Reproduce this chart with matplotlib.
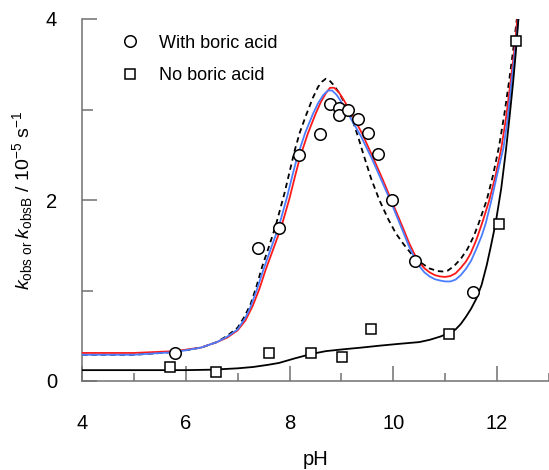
import matplotlib
matplotlib.use("Agg")
import matplotlib.pyplot as plt

plt.rcParams['font.family'] = ['Liberation Sans', 'DejaVu Sans']
plt.rcParams['mathtext.fontset'] = 'custom'
plt.rcParams['mathtext.rm'] = 'Liberation Sans'
plt.rcParams['mathtext.it'] = 'Liberation Sans:italic'

# ---- data points ----
ph_with = [5.79, 7.40, 7.79, 8.19, 8.59, 8.77, 8.96, 8.96, 9.13, 9.32, 9.51, 9.71, 9.98, 10.41, 11.53]
k_with = [0.31, 1.47, 1.69, 2.50, 2.73, 3.06, 3.02, 2.94, 2.99, 2.89, 2.74, 2.51, 2.00, 1.33, 0.98]

ph_no = [5.70, 6.58, 7.60, 8.42, 9.02, 9.57, 11.08, 12.04, 12.37]
k_no = [0.15, 0.10, 0.31, 0.31, 0.27, 0.57, 0.52, 1.74, 3.76]

# ---- fitted curves ----
ph_red = [4.0, 5.0, 5.8, 6.3, 6.6, 6.8, 7.0, 7.15, 7.29, 7.42, 7.54, 7.7, 7.84, 8.0, 8.1, 8.2,
          8.35, 8.5, 8.6, 8.7, 8.78, 8.86, 8.95, 9.05, 9.2, 9.41, 9.6, 9.8, 9.96, 10.18, 10.3,
          10.4, 10.5, 10.6, 10.7, 10.8, 10.9, 11.0, 11.1, 11.2, 11.3, 11.4, 11.49, 11.6, 11.72,
          11.85, 11.97, 12.08, 12.17, 12.26, 12.33, 12.39]
k_red = [0.31, 0.31, 0.33, 0.37, 0.43, 0.48, 0.56, 0.67, 0.83, 1.02, 1.23, 1.48, 1.70, 2.02, 2.25, 2.47,
         2.73, 2.95, 3.08, 3.18, 3.24, 3.24, 3.19, 3.10, 2.95, 2.72, 2.48, 2.22, 2.00, 1.70, 1.53,
         1.41, 1.31, 1.245, 1.20, 1.17, 1.155, 1.15, 1.16, 1.19, 1.25, 1.32, 1.41, 1.56, 1.76,
         2.00, 2.27, 2.57, 2.90, 3.31, 3.64, 4.00]

ph_blue = [4.0, 5.0, 5.8, 6.3, 6.6, 6.8, 7.0, 7.15, 7.25, 7.37, 7.49, 7.65, 7.79, 7.95, 8.05, 8.15,
           8.3, 8.45, 8.55, 8.65, 8.74, 8.82, 8.91, 9.0, 9.15, 9.38, 9.6, 9.8, 9.96, 10.18, 10.3,
           10.4, 10.5, 10.6, 10.7, 10.8, 10.9, 11.0, 11.1, 11.2, 11.3, 11.4, 11.5, 11.6, 11.7,
           11.78, 11.9, 12.0, 12.12, 12.2, 12.28, 12.35, 12.41]
k_blue = [0.29, 0.29, 0.32, 0.37, 0.43, 0.49, 0.57, 0.70, 0.82, 1.01, 1.22, 1.48, 1.70, 2.03, 2.26, 2.48,
          2.74, 2.95, 3.07, 3.16, 3.21, 3.21, 3.16, 3.08, 2.93, 2.70, 2.44, 2.18, 1.97, 1.66, 1.49,
          1.37, 1.27, 1.20, 1.155, 1.125, 1.11, 1.10, 1.10, 1.12, 1.17, 1.24, 1.33, 1.46, 1.60,
          1.74, 2.02, 2.28, 2.57, 2.88, 3.31, 3.66, 4.00]

ph_dash = [4.0, 5.0, 5.8, 6.3, 6.6, 6.8, 7.0, 7.13, 7.25, 7.36, 7.47, 7.6, 7.73, 7.9, 8.0, 8.1,
           8.2, 8.32, 8.45, 8.55, 8.63, 8.7, 8.77, 8.85, 8.96, 9.09, 9.22, 9.32, 9.41, 9.57, 9.73,
           9.9, 10.05, 10.2, 10.34, 10.5, 10.69, 10.85, 10.95, 11.05, 11.17, 11.3, 11.43, 11.55,
           11.65, 11.8, 11.92, 12.04, 12.14, 12.23, 12.31, 12.38]
k_dash = [0.29, 0.29, 0.32, 0.37, 0.43, 0.50, 0.59, 0.71, 0.85, 1.04, 1.26, 1.48, 1.71, 2.07, 2.31, 2.55,
          2.75, 2.94, 3.13, 3.25, 3.31, 3.34, 3.32, 3.27, 3.18, 3.04, 2.87, 2.70, 2.53, 2.24, 2.00,
          1.79, 1.63, 1.51, 1.41, 1.32, 1.245, 1.215, 1.21, 1.22, 1.27, 1.35, 1.46, 1.60,
          1.75, 2.00, 2.27, 2.60, 2.95, 3.31, 3.66, 4.00]

ph_black = [4.0, 5.0, 6.0, 6.5, 7.0, 7.3, 7.6, 7.8, 8.1, 8.43, 8.7, 9.03, 9.4, 9.73, 10.1, 10.5,
            10.7, 10.9, 11.08, 11.2, 11.3, 11.4, 11.5, 11.6, 11.7, 11.8, 11.88, 11.97, 12.08,
            12.17, 12.24, 12.31, 12.36, 12.41]
k_black = [0.12, 0.12, 0.12, 0.125, 0.14, 0.155, 0.18, 0.20, 0.25, 0.30, 0.33, 0.35, 0.37, 0.39, 0.41, 0.43,
           0.455, 0.49, 0.53, 0.57, 0.63, 0.71, 0.80, 0.91, 1.06, 1.28, 1.49, 1.74, 2.13,
           2.55, 2.92, 3.31, 3.63, 4.00]

legend_labels = ["With boric acid", "No boric acid"]
x_ticks = [4, 6, 8, 10, 12]
y_ticks = [0, 2, 4]

fig = plt.figure(figsize=(5.49, 4.70), dpi=100)
ax = fig.add_axes([82/549, 1 - 381/470, (549-82)/549, (381-19)/470])

ax.plot(ph_dash, k_dash, color='black', lw=1.3, dashes=(3, 2.2), zorder=2)
ax.plot(ph_red, k_red, color='#ff1a1a', lw=1.3, zorder=3)
ax.plot(ph_blue, k_blue, color='#4a7dff', lw=1.3, zorder=3)
ax.plot(ph_black, k_black, color='black', lw=1.3, zorder=3)

ax.plot(ph_with, k_with, 'o', ms=8.3, mfc='white', mec='black', mew=1.1, zorder=5,
        label=legend_labels[0], clip_on=False)
ax.plot(ph_no, k_no, 's', ms=7.8, mfc='white', mec='black', mew=1.1, zorder=5,
        label=legend_labels[1], clip_on=False)

ax.set_xlim(4, 13)
ax.set_ylim(0, 4)
ax.set_xticks(x_ticks)
ax.set_xticks([5, 7, 9, 11, 13], minor=True)
ax.set_yticks(y_ticks)
ax.set_yticks([1, 3], minor=True)

for s in ['top', 'right']:
    ax.spines[s].set_visible(False)
for s in ['left', 'bottom']:
    ax.spines[s].set_color('#707070')
    ax.spines[s].set_linewidth(1.1)

ax.tick_params(axis='both', which='both', direction='in', color='#707070', width=1.1,
               labelsize=14.5)
ax.tick_params(axis='x', which='major', length=10.5, pad=24)
ax.tick_params(axis='x', which='minor', length=6)
ax.tick_params(axis='y', which='major', length=11, pad=18)
ax.tick_params(axis='y', which='minor', length=8)

ax.set_xlabel('pH', fontsize=14.5)
ax.xaxis.set_label_coords(0.5, -0.19)
ax.set_ylabel(r'$k_{\mathrm{obs\ or\ }}k_{\mathrm{obsB}}$ / 10$^{-5}$ s$^{-1}$', fontsize=14)
ax.yaxis.set_label_coords(-0.1, 0.5)

ax.legend(loc='upper left', bbox_to_anchor=(0.083, 0.957), frameon=False, fontsize=13,
          handlelength=1.0, handletextpad=1.1, labelspacing=0.88, borderpad=0, borderaxespad=0)

fig.savefig('out.png', dpi=100)
